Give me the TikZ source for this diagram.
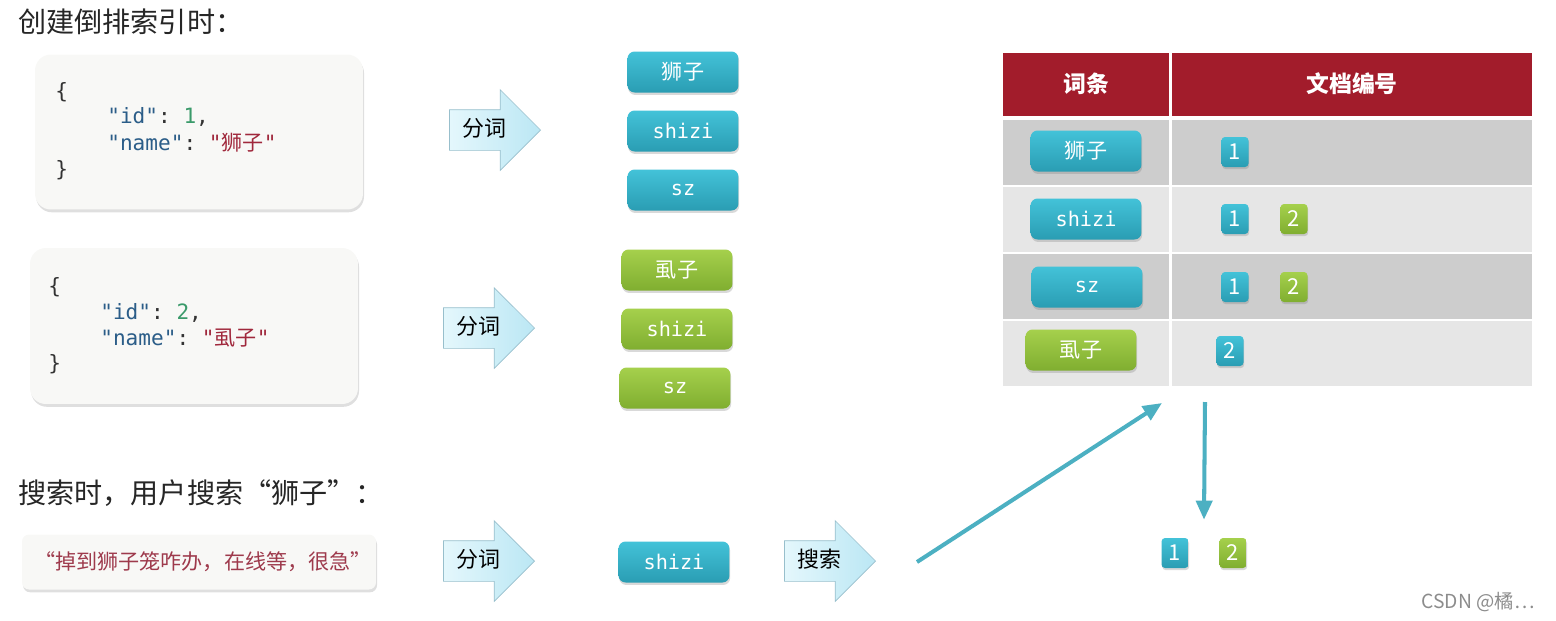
\documentclass[tikz,border=0pt]{standalone}
\usepackage{fontspec}
\setmainfont{Noto Sans CJK SC}
\setmonofont{DejaVu Sans Mono}
\usetikzlibrary{shapes.arrows, shadows, positioning, arrows.meta, calc}

\definecolor{tokblueT}{HTML}{43C2D8}
\definecolor{tokblueB}{HTML}{2A9DB3}
\definecolor{tokgreenT}{HTML}{A5D04C}
\definecolor{tokgreenB}{HTML}{80AE30}
\definecolor{hdrred}{HTML}{A21C2B}
\definecolor{rowdark}{HTML}{CDCDCD}
\definecolor{rowlight}{HTML}{E6E6E6}
\definecolor{boxbg}{HTML}{F8F8F6}
\definecolor{jkey}{HTML}{2B5D88}
\definecolor{jnum}{HTML}{3A9A6A}
\definecolor{jstr}{HTML}{A0283C}
\definecolor{qtext}{HTML}{9E3A4C}
\definecolor{linkteal}{HTML}{4CB0C2}
\definecolor{arrowL}{HTML}{E4F7FC}
\definecolor{arrowR}{HTML}{BBE7F4}
\definecolor{arrowline}{HTML}{98BFCC}

\begin{document}
\begin{tikzpicture}[
    x=0.02cm, y=-0.02cm,
    title/.style={anchor=west, inner sep=0, font=\fontsize{16}{18}\selectfont, text=black!85},
    jsonbox/.style={rounded corners=9pt, fill=boxbg, drop shadow={opacity=0.25, shadow xshift=0.6pt, shadow yshift=-1.6pt}},
    jline/.style={anchor=west, inner sep=0, font=\ttfamily\fontsize{12}{14}\selectfont, text=black!80},
    splitarrow/.style={shape=single arrow, single arrow head extend=0.4cm, shape border rotate=0,
        minimum height=1.82cm, text height=0.32cm, text depth=0.08cm, inner ysep=0.2cm, inner xsep=0.1cm,
        left color=arrowL, right color=arrowR, draw=arrowline, thin, font=\fontsize{12.5}{14}\selectfont, anchor=tip},
    token/.style={rounded corners=4pt, minimum width=2.22cm, minimum height=0.82cm, text=white,
        font=\ttfamily\fontsize{11.5}{13}\selectfont, drop shadow={opacity=0.3, shadow xshift=0.4pt, shadow yshift=-1.4pt}},
    cjktok/.style={font=\rmfamily\fontsize{12}{14}\selectfont},
    blue/.style={top color=tokblueT, bottom color=tokblueB},
    green/.style={top color=tokgreenT, bottom color=tokgreenB},
    docid/.style={rounded corners=2pt, minimum width=0.54cm, minimum height=0.6cm, inner sep=0, text=white,
        font=\fontsize{12.5}{14}\selectfont, drop shadow={opacity=0.3, shadow xshift=0.4pt, shadow yshift=-1.2pt}},
    hdr/.style={fill=hdrred, minimum height=1.26cm, text=white, font=\bfseries\fontsize{13}{15}\selectfont},
    cell/.style={minimum height=1.3cm},
    link/.style={draw=linkteal, line width=2.3pt, -{Triangle[length=0.38cm, width=0.32cm]}}
]
    \useasboundingbox (0,0) rectangle (1556,620);

    % Titles
    \node[title] (T1) at (18,22) {创建倒排索引时：};
    \node[title] (T2) at (18,493) {搜索时，用户搜索“狮子”：};

    % Document 1
    \node[jsonbox, minimum width=6.56cm, minimum height=3.1cm] (DOC1) at (199,132) {};
    \node[jline] (D1L1) at (55,92) {\{};
    \node[jline] (D1L2) at (107,117) {\textcolor{jkey}{"id"}: \textcolor{jnum}{1},};
    \node[jline] (D1L3) at (107,143) {\textcolor{jkey}{"name"}: \textcolor{jstr}{"\textrm{狮子}"}};
    \node[jline] (D1L4) at (55,170) {\}};

    % Document 2
    \node[jsonbox, minimum width=6.56cm, minimum height=3.12cm] (DOC2) at (194,326) {};
    \node[jline] (D2L1) at (48,287) {\{};
    \node[jline] (D2L2) at (100,313) {\textcolor{jkey}{"id"}: \textcolor{jnum}{2},};
    \node[jline] (D2L3) at (100,338) {\textcolor{jkey}{"name"}: \textcolor{jstr}{"\textrm{虱子}"}};
    \node[jline] (D2L4) at (48,364) {\}};

    % Query
    \node[jsonbox, rounded corners=4pt, minimum width=7.08cm, minimum height=1.1cm] (QBOX) at (199,562) {};
    \node[text=qtext, font=\fontsize{12}{14}\selectfont] (QTXT) at (203,562) {“掉到狮子笼咋办，在线等，很急”};

    % Split arrows
    \node[splitarrow] (SPLIT1) at (541,130) {分词};
    \node[splitarrow] (SPLIT2) at (535,328) {分词};
    \node[splitarrow] (SPLIT3) at (535,561) {分词};
    \node[splitarrow] (SEARCH) at (876,561) {搜索};

    % Terms of document 1
    \node[token, blue, cjktok] (A1) at (683,72) {狮子};
    \node[token, blue] (A2) at (683,131) {shizi};
    \node[token, blue] (A3) at (683,190) {sz};

    % Terms of document 2
    \node[token, green, cjktok] (B1) at (677,270) {虱子};
    \node[token, green] (B2) at (677,329) {shizi};
    \node[token, green] (B3) at (675,388) {sz};

    % Term of query
    \node[token, blue] (Q1) at (674,562) {shizi};

    % Inverted index table
    \node[hdr, minimum width=3.32cm] (H1) at (1086,84) {词条};
    \node[hdr, minimum width=7.2cm] (H2) at (1352,84) {文档编号};

    \node[cell, fill=rowdark, minimum width=3.32cm] (R1A) at (1086,152) {};
    \node[cell, fill=rowdark, minimum width=7.2cm] (R1B) at (1352,152) {};
    \node[cell, fill=rowlight, minimum width=3.32cm] (R2A) at (1086,219) {};
    \node[cell, fill=rowlight, minimum width=7.2cm] (R2B) at (1352,219) {};
    \node[cell, fill=rowdark, minimum width=3.32cm] (R3A) at (1086,286) {};
    \node[cell, fill=rowdark, minimum width=7.2cm] (R3B) at (1352,286) {};
    \node[cell, fill=rowlight, minimum width=3.32cm] (R4A) at (1086,353) {};
    \node[cell, fill=rowlight, minimum width=7.2cm] (R4B) at (1352,353) {};

    \node[token, blue, cjktok] (K1) at (1086,151) {狮子};
    \node[token, blue] (K2) at (1086,219) {shizi};
    \node[token, blue] (K3) at (1087,287) {sz};
    \node[token, green, cjktok] (K4) at (1081,350) {虱子};

    \node[docid, blue] (P11) at (1235,152) {1};
    \node[docid, blue] (P21) at (1235,219) {1};
    \node[docid, green] (P22) at (1294,219) {2};
    \node[docid, blue] (P31) at (1235,287) {1};
    \node[docid, green] (P32) at (1294,287) {2};
    \node[docid, blue] (P41) at (1230,351) {2};

    % Result
    \node[docid, blue] (RES1) at (1175,553) {1};
    \node[docid, green] (RES2) at (1233,553) {2};

    % Links
    \coordinate (QFROM) at (917,562);
    \coordinate (QTO) at (1162,403);
    \coordinate (LFROM) at (1205,402);
    \draw[link] (QFROM) -- (QTO);
    \draw[link] (LFROM) -- ($(RES1.north)!0.5!(RES2.north) + (0,-18)$);

    % Watermark
    \node[text=black!45, font=\fontsize{11}{13}\selectfont] (WM) at (1478,602) {CSDN @橘…};
\end{tikzpicture}
\end{document}
